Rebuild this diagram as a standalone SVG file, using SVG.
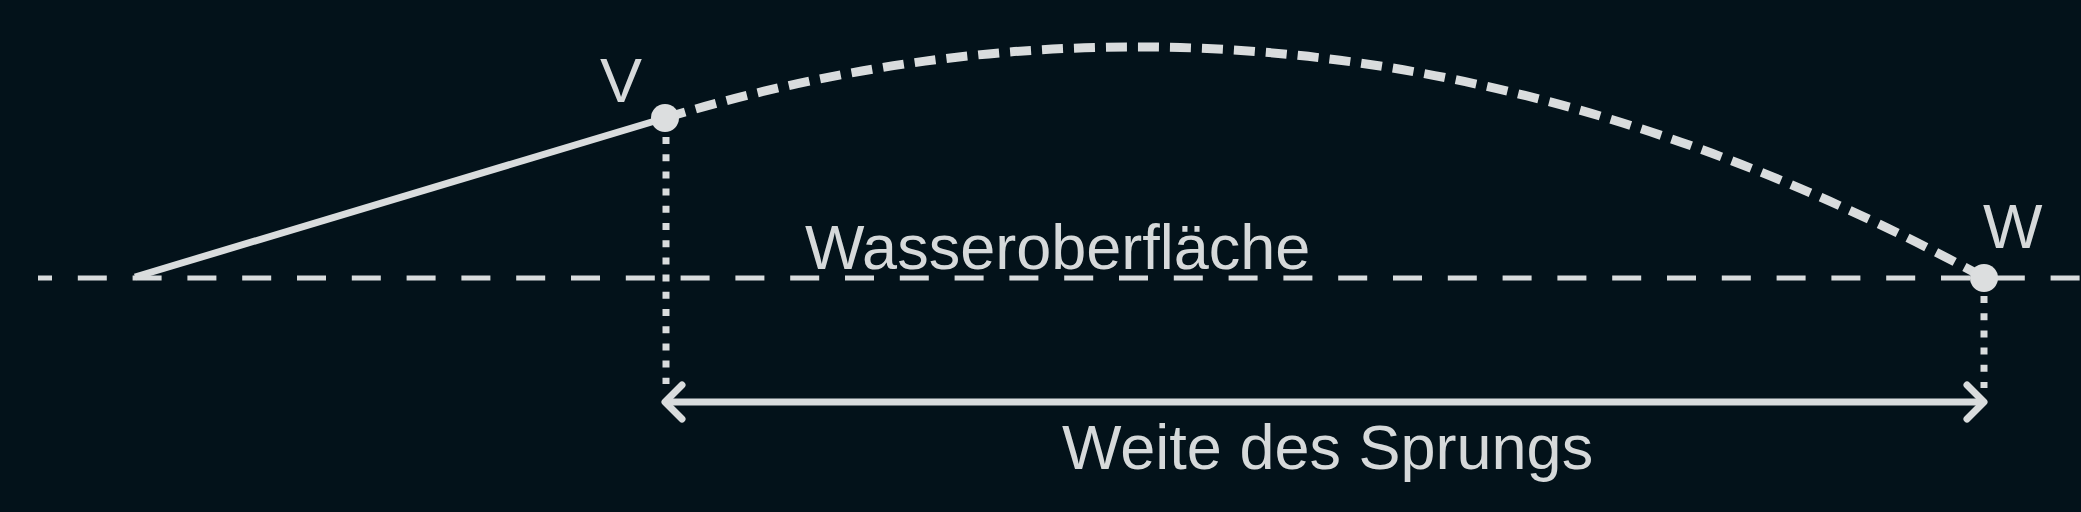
<svg xmlns="http://www.w3.org/2000/svg" width="2081" height="512" viewBox="0 0 2081 512">
<style>
.ln{stroke:#d9dcdd;fill:none}
.lbl{font-family:"Liberation Sans",Arial,sans-serif;font-size:63px;fill:#d6d9da}
.dot{fill:#dcdedf}
</style>
<rect width="2081" height="512" fill="#03121a"/>
<g id="connectors">
<line class="ln" x1="38" y1="278" x2="2081" y2="278" stroke-width="5" stroke-dasharray="29 25.8" stroke-dashoffset="15"/>
<line class="ln" x1="135" y1="277" x2="665" y2="118" stroke-width="7"/>
<path class="ln" d="M665 118 Q1324 -81 1983 277" stroke-width="9" stroke-dasharray="21 11"/>
<line class="ln" x1="666" y1="137" x2="666" y2="384" stroke-width="7" stroke-dasharray="7 10.2"/>
<line class="ln" x1="1984" y1="296" x2="1984" y2="388" stroke-width="7" stroke-dasharray="7 10.2"/>
<line class="ln" x1="667" y1="402" x2="1982" y2="402" stroke-width="7"/>
<polyline class="ln" points="682,385 665,402 682,419" stroke-width="7" stroke-linecap="round" stroke-linejoin="round"/>
<polyline class="ln" points="1967,385 1984,402 1967,419" stroke-width="7" stroke-linecap="round" stroke-linejoin="round"/>
</g>
<g id="node-V">
<circle class="dot" cx="665" cy="118" r="14"/>
<text class="lbl" x="600" y="102">V</text>
</g>
<g id="node-W">
<circle class="dot" cx="1984" cy="278" r="14"/>
<text class="lbl" x="1983" y="248">W</text>
</g>
<g id="label-surface">
<text class="lbl" x="805" y="269">Wasseroberfläche</text>
</g>
<g id="label-distance">
<text class="lbl" x="1062" y="469">Weite des Sprungs</text>
</g>
</svg>
